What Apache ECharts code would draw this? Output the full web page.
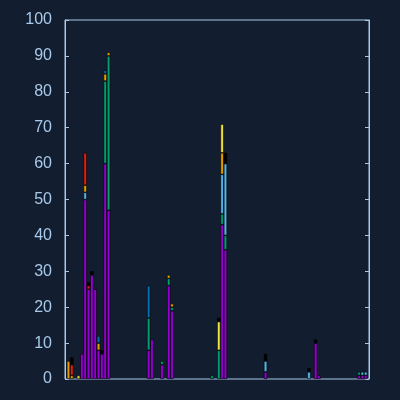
<!DOCTYPE html>
<html>
<head>
<meta charset="utf-8">
<script src="https://cdn.jsdelivr.net/npm/echarts@6/dist/echarts.min.js"></script>
<style>
html,body{margin:0;padding:0;background:#121e2f;}
#c{width:400px;height:400px;}
</style>
</head>
<body>
<div id="c"></div>
<script>
// 90 categories (indices 0..89); values given as [categoryIndex, value] pairs
const categoryCount = 90;
const categories = [];
for (let i = 0; i < categoryCount; i++) categories.push(String(i));
const yTicks = [0,10,20,30,40,50,60,70,80,90,100];

const seriesNames = ['s1','s2','s3','s4','s5','s6','s7','s8'];
const seriesColors = ['#9400d3','#009e73','#56b4e9','#e69f00','#f0e442','#0072b2','#e51e10','#000000'];

const s1 = [[4,7],[5,50],[6,25],[7,29],[8,25],[9,8],[10,7],[11,60],[12,47],
            [24,8],[25,11],[28,4],[30,26],[31,19],
            [46,43],[47,36],[59,2],[74,10],[75,1],[87,1],[88,1],[89,1]];
const s2 = [[11,23],[12,43],[24,9],[28,1],[30,2],[31,1],[43,1],[45,8],[46,3],[47,4],[87,1]];
const s3 = [[5,2],[46,11],[47,20],[59,3],[72,2],[88,1],[89,1]];
const s4 = [[0,5],[1,1],[5,2],[9,2],[11,2],[12,1],[30,1],[31,1],[46,6]];
const s5 = [[3,1],[45,8],[46,8]];
const s6 = [[9,2],[11,1],[24,9]];
const s7 = [[1,3],[5,9],[6,1]];
const s8 = [[1,2],[6,1],[7,1],[10,1],[45,1],[47,3],[59,2],[72,1],[74,1]];

const allPairs = [s1,s2,s3,s4,s5,s6,s7,s8];

function expand(pairs){
  const arr = [];
  for (let i = 0; i < categoryCount; i++) arr.push('-');
  pairs.forEach(p => { arr[p[0]] = p[1]; });
  return arr;
}

const axisColor = '#a9c9ea';
const chart = echarts.init(document.getElementById('c'), null, {renderer:'canvas'});
chart.setOption({
  backgroundColor: '#121e2f',
  animation: false,
  grid: [
    {left: 65, right: 31, top: 20, bottom: 21, show: true, borderColor: axisColor, borderWidth: 1, backgroundColor: 'transparent'},
    {left: 66.8, right: 32.6, top: 20, bottom: 21, show: false}
  ],
  xAxis: [
    {type: 'category', gridIndex: 0, data: categories, show: false},
    {type: 'category', gridIndex: 1, data: categories, show: false}
  ],
  yAxis: [
    {type: 'value', gridIndex: 0, min: 0, max: 100, interval: 10, position: 'left',
     axisLine: {show: true, lineStyle: {color: axisColor}},
     axisTick: {show: true, inside: true, length: 4, lineStyle: {color: axisColor}},
     axisLabel: {show: true, color: axisColor, fontSize: 16, fontFamily: 'Liberation Sans', margin: 13,
       formatter: v => yTicks.indexOf(v) >= 0 ? String(v) : ''},
     splitLine: {show: false}},
    {type: 'value', gridIndex: 0, min: 0, max: 100, interval: 10, position: 'right',
     axisLine: {show: true, lineStyle: {color: axisColor}},
     axisTick: {show: true, inside: true, length: 4, lineStyle: {color: axisColor}},
     axisLabel: {show: false},
     splitLine: {show: false}},
    {type: 'value', gridIndex: 1, min: 0, max: 100, interval: 10, show: false, splitLine: {show: false}}
  ],
  series: allPairs.map((p, k) => ({
    name: seriesNames[k],
    type: 'bar',
    stack: 'total',
    xAxisIndex: 1,
    yAxisIndex: 2,
    barCategoryGap: '0%',
    data: expand(p),
    itemStyle: {color: seriesColors[k], borderColor: '#000000', borderWidth: 0.6}
  }))
});
</script>
</body>
</html>
